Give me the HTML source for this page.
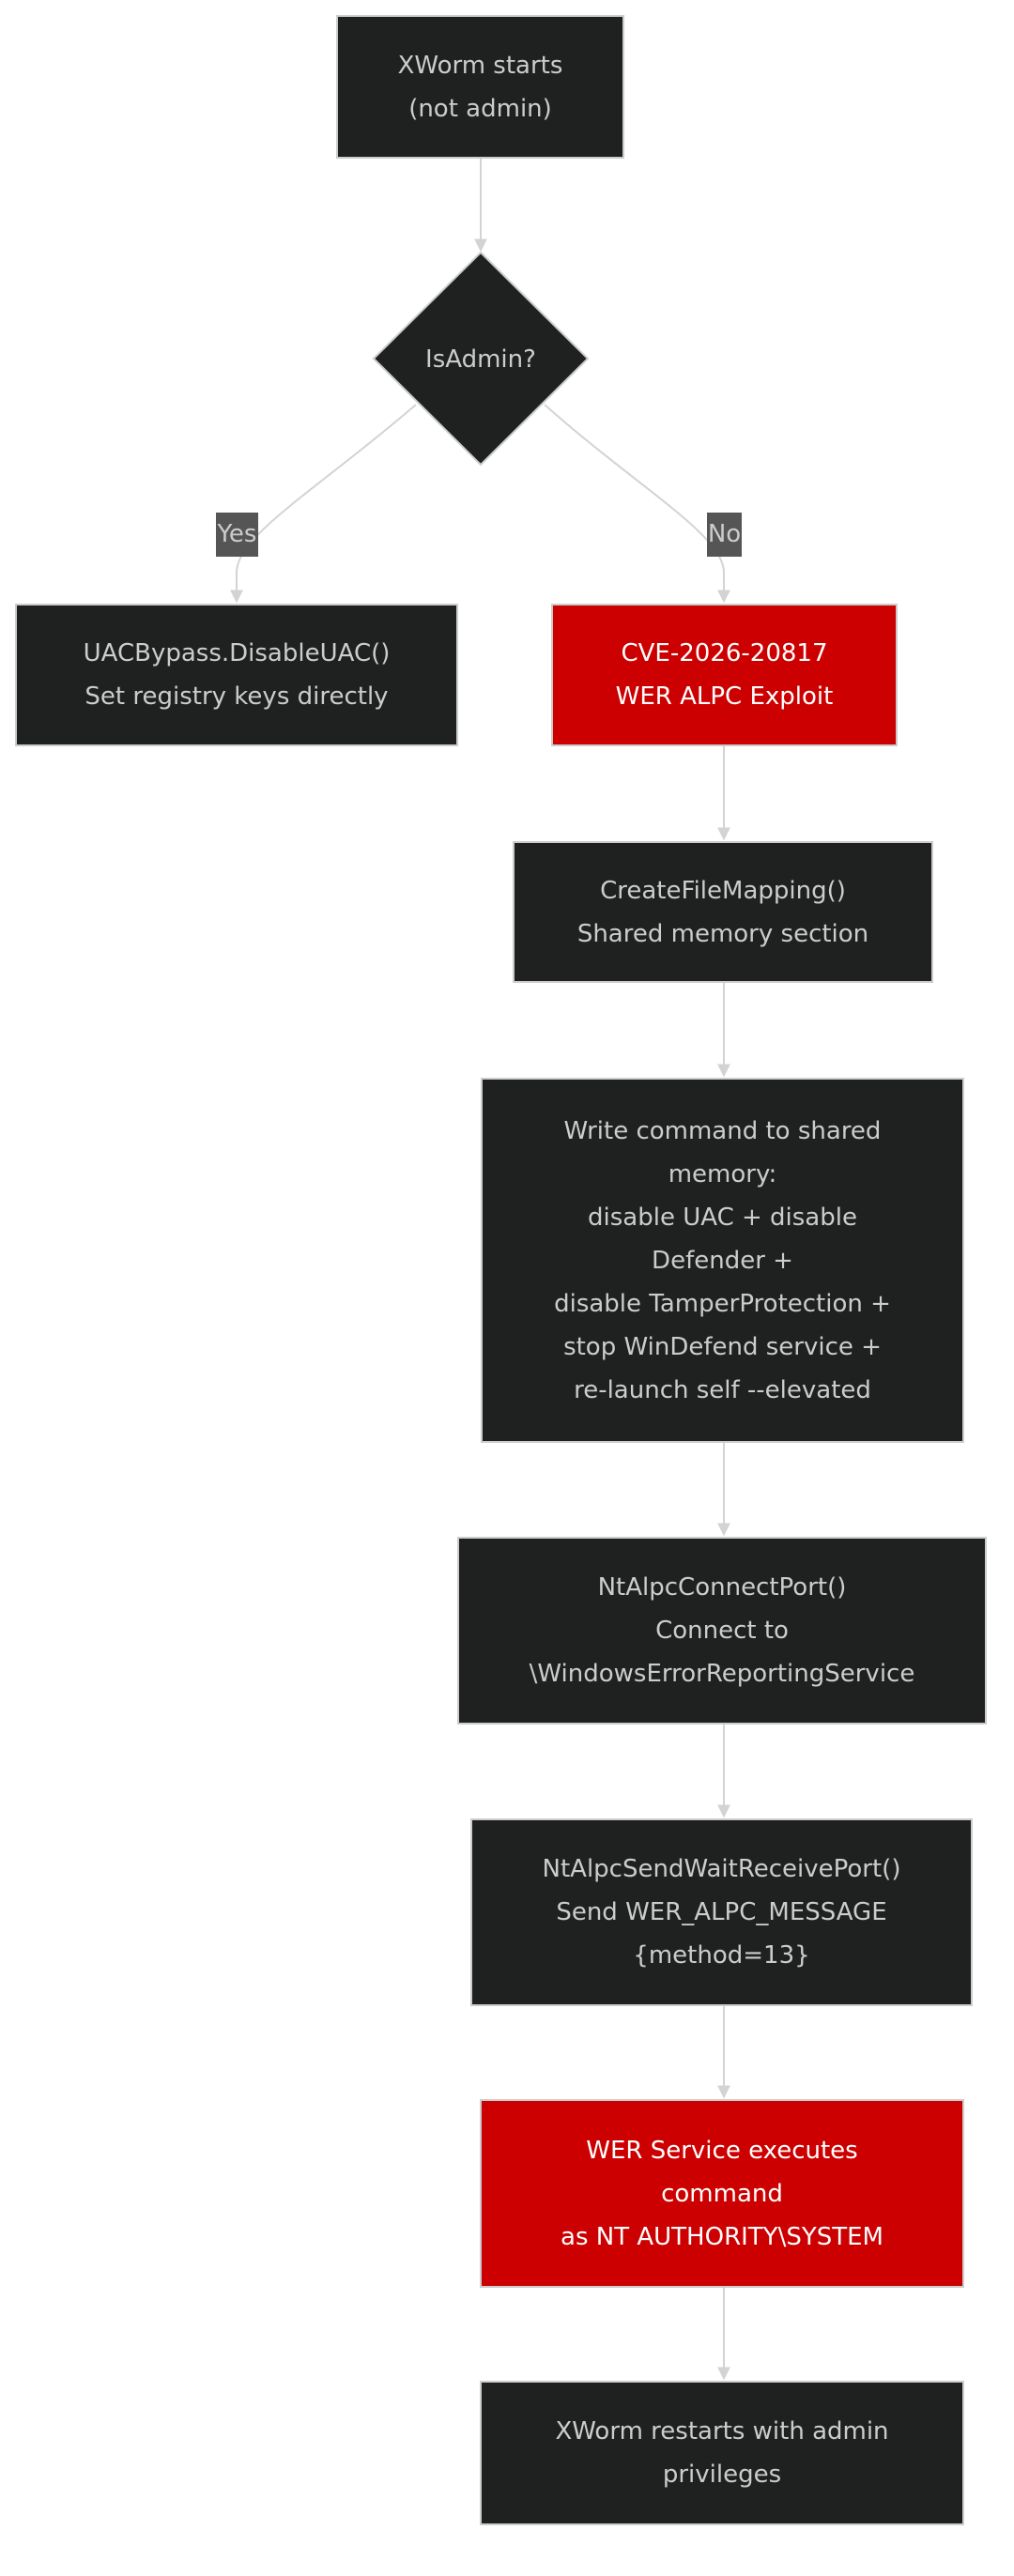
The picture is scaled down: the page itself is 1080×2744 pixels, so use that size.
<!DOCTYPE html>
<html><head><meta charset="utf-8"><style>
html,body{margin:0;padding:0;background:#fff;}
body{width:1080px;height:2744px;position:relative;overflow:hidden;font-family:"DejaVu Sans","Liberation Sans",sans-serif;}
.n{position:absolute;box-sizing:border-box;background:#1f2020;border:2px solid #cccccc;color:#cccccc;display:flex;align-items:center;justify-content:center;text-align:center;font-size:26px;line-height:46px;}
.r{background:#cc0000;color:#fff;}
.lbl{position:absolute;background:#555;color:#ccc;font-size:26px;line-height:47px;text-align:center;}
svg{position:absolute;left:0;top:0;}
</style></head><body>
<svg width="1080" height="2744">
<defs><marker id="a" viewBox="0 0 10 10" refX="9" refY="5" markerWidth="7" markerHeight="7" orient="auto"><path d="M0,0L10,5L0,10z" fill="#d3d3d3"/></marker></defs>
<g stroke="#d3d3d3" stroke-width="2" fill="none" marker-end="url(#a)">
<path d="M512,169V267"/>
<path d="M443,431C340,520 252,570 252,610 V641"/>
<path d="M580,431C680,520 771,570 771,610 V641"/>
<path d="M771,795V894"/>
<path d="M771,1047V1146"/>
<path d="M771,1537V1635"/>
<path d="M771,1837V1935"/>
<path d="M771,2137V2234"/>
<path d="M771,2437V2534"/>
</g>
<polygon points="512,269 626,382 512,495 398,382" fill="#1f2020" stroke="#cccccc" stroke-width="2"/>
<text x="512" y="391" fill="#cccccc" font-size="26" text-anchor="middle" font-family="DejaVu Sans, Liberation Sans, sans-serif">IsAdmin?</text>
</svg>
<div class="n" style="left:358px;top:16px;width:307px;height:153px">XWorm starts<br>(not admin)</div>
<div class="lbl" style="left:230px;top:546px;width:45px">Yes</div>
<div class="lbl" style="left:753px;top:546px;width:37px">No</div>
<div class="n" style="left:16px;top:643px;width:472px;height:152px">UACBypass.DisableUAC()<br>Set registry keys directly</div>
<div class="n r" style="left:587px;top:643px;width:369px;height:152px">CVE-2026-20817<br>WER ALPC Exploit</div>
<div class="n" style="left:546px;top:896px;width:448px;height:151px">CreateFileMapping()<br>Shared memory section</div>
<div class="n" style="left:512px;top:1148px;width:515px;height:389px">Write command to shared<br>memory:<br>disable UAC + disable<br>Defender +<br>disable TamperProtection +<br>stop WinDefend service +<br>re-launch self --elevated</div>
<div class="n" style="left:487px;top:1637px;width:564px;height:200px">NtAlpcConnectPort()<br>Connect to<br>\WindowsErrorReportingService</div>
<div class="n" style="left:501px;top:1937px;width:535px;height:200px">NtAlpcSendWaitReceivePort()<br>Send WER_ALPC_MESSAGE<br>{method=13}</div>
<div class="n r" style="left:511px;top:2236px;width:516px;height:201px">WER Service executes<br>command<br>as NT AUTHORITY\SYSTEM</div>
<div class="n" style="left:511px;top:2536px;width:516px;height:154px">XWorm restarts with admin<br>privileges</div>
</body></html>
